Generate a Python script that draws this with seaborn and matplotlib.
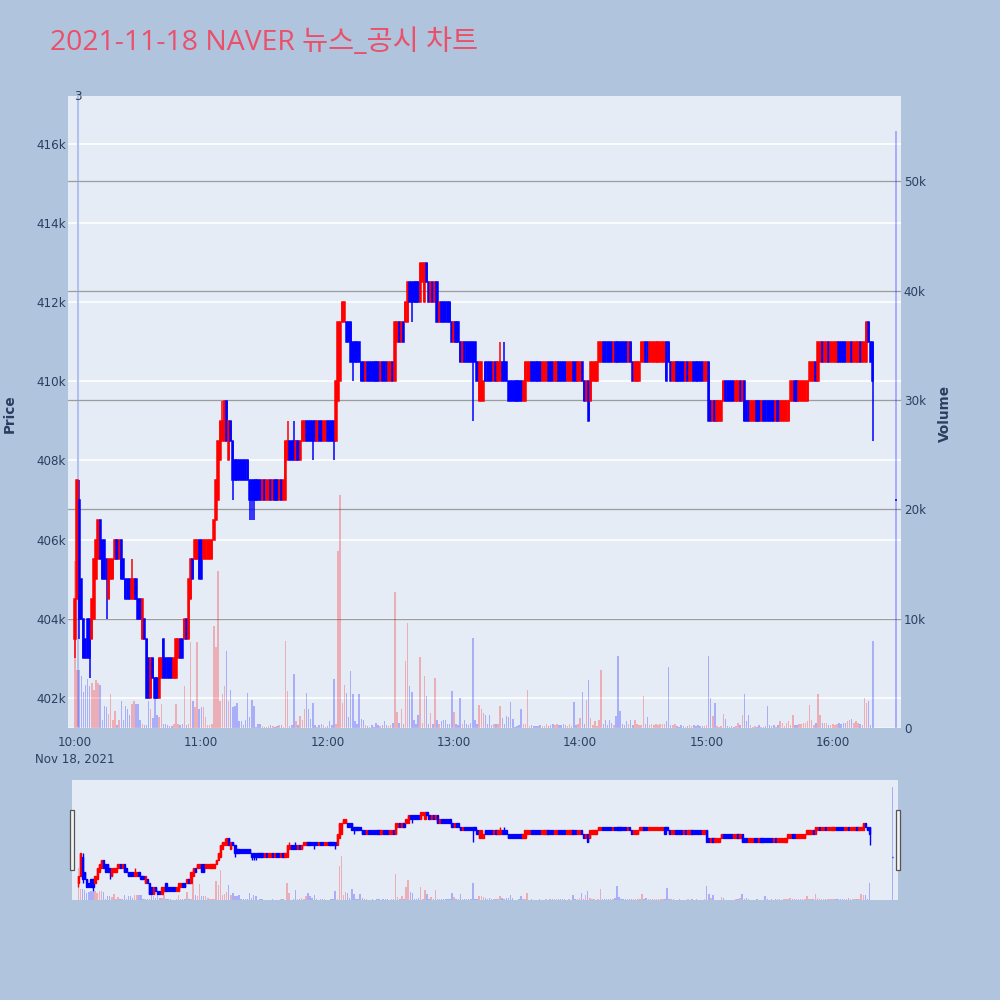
import numpy as np
import pandas as pd
import matplotlib
matplotlib.use("Agg")
import matplotlib.pyplot as plt
from matplotlib.patches import Rectangle
import matplotlib.transforms as mtransforms
import seaborn as sns

# ---------------- data ----------------
TITLE = "2021-11-18 NAVER 뉴스_공시 차트"
START = "2021-11-18 10:00"

# 1-minute candles, prices in thousand won, 10:00 .. 16:19
open_k = [
    403.5, 404.5, 407.0, 405.0, 404.0, 403.5, 404.0, 404.0, 403.5, 404.0,
    405.0, 405.5, 406.5, 406.0, 406.0, 405.5, 404.5, 405.0, 405.0, 405.5,
    406.0, 405.5, 406.0, 405.5, 405.0, 405.0, 405.0, 404.5, 404.5, 405.0,
    404.5, 404.5, 403.5, 404.0, 403.5, 403.0, 402.0, 403.0, 402.5, 402.5,
    402.0, 402.5, 403.5, 403.0, 403.0, 403.0, 403.0, 402.5, 402.5, 403.0,
    403.5, 403.5, 403.5, 404.0, 403.5, 404.5, 405.5, 405.5, 405.5, 406.0,
    406.0, 405.5, 405.5, 405.5, 405.5, 405.5, 406.0, 406.5, 407.0, 408.0,
    408.5, 408.5, 409.5, 408.0, 409.0, 408.5, 408.0, 408.0, 408.0, 408.0,
    408.0, 408.0, 408.0, 407.5, 407.5, 407.5, 407.5, 407.5, 407.5, 407.0,
    407.5, 407.0, 407.0, 407.5, 407.0, 407.5, 407.5, 407.0, 407.5, 407.0,
    407.0, 408.0, 408.5, 408.5, 408.5, 408.0, 408.5, 408.0, 408.5, 408.5,
    409.0, 409.0, 409.0, 409.0, 409.0, 408.5, 409.0, 409.0, 408.5, 408.5,
    409.0, 409.0, 409.0, 409.0, 408.5, 409.5, 410.0, 411.5, 411.5, 411.5,
    411.5, 411.5, 411.0, 411.0, 411.0, 411.0, 410.5, 410.5, 410.0, 410.5,
    410.5, 410.5, 410.5, 410.5, 410.5, 410.0, 410.5, 410.5, 410.5, 410.0,
    410.0, 410.5, 410.0, 411.0, 411.5, 411.0, 411.5, 411.5, 411.5, 412.5,
    412.5, 412.5, 412.5, 412.5, 412.0, 412.5, 412.0, 413.0, 412.5, 412.0,
    412.5, 412.0, 412.5, 411.5, 412.0, 412.0, 412.0, 412.0, 412.0, 411.5,
    411.0, 411.5, 411.5, 411.0, 410.5, 411.0, 411.0, 411.0, 411.0, 411.0,
    411.0, 410.5, 409.5, 409.5, 409.5, 410.5, 410.5, 410.5, 410.5, 410.0,
    410.5, 410.0, 410.0, 410.5, 410.5, 410.5, 410.0, 410.0, 410.0, 410.0,
    410.0, 410.0, 410.0, 409.5, 409.5, 410.0, 410.0, 410.5, 410.5, 410.5,
    410.5, 410.5, 410.0, 410.0, 410.0, 410.5, 410.5, 410.5, 410.0, 410.0,
    410.5, 410.5, 410.5, 410.5, 410.0, 410.0, 410.0, 410.5, 410.5, 410.0,
    410.0, 410.5, 410.0, 409.5, 410.0, 409.5, 410.0, 410.0, 410.0, 410.5,
    410.5, 411.0, 411.0, 411.0, 411.0, 411.0, 410.5, 411.0, 411.0, 411.0,
    411.0, 411.0, 411.0, 410.5, 411.0, 410.5, 410.0, 410.0, 410.0, 410.5,
    410.5, 411.0, 411.0, 410.5, 410.5, 410.5, 410.5, 410.5, 410.5, 410.5,
    410.5, 411.0, 411.0, 410.5, 410.0, 410.0, 410.5, 410.5, 410.5, 410.5,
    410.0, 410.5, 410.0, 410.0, 410.5, 410.5, 410.5, 410.5, 410.5, 410.0,
    410.0, 410.5, 409.5, 409.0, 409.5, 409.0, 409.0, 409.0, 409.5, 410.0,
    410.0, 410.0, 410.0, 410.0, 409.5, 409.5, 410.0, 409.5, 410.0, 409.5,
    409.5, 409.0, 409.0, 409.0, 409.5, 409.5, 409.0, 409.5, 409.5, 409.5,
    409.5, 409.5, 409.5, 409.0, 409.5, 409.0, 409.0, 409.0, 409.0, 409.0,
    409.5, 409.5, 410.0, 410.0, 409.5, 409.5, 409.5, 409.5, 409.5, 410.0,
    410.0, 410.0, 410.5, 410.0, 410.5, 411.0, 410.5, 410.5, 411.0, 410.5,
    410.5, 410.5, 410.5, 411.0, 411.0, 411.0, 411.0, 410.5, 410.5, 411.0,
    410.5, 410.5, 410.5, 411.0, 410.5, 410.5, 410.5, 411.5, 411.0, 411.0,
]
close_k = [
    404.5, 407.5, 404.0, 404.0, 403.0, 403.0, 403.0, 403.0, 404.5, 405.5,
    406.0, 406.5, 405.5, 405.0, 405.0, 405.0, 405.5, 405.5, 405.5, 406.0,
    405.5, 406.0, 405.0, 405.0, 404.5, 404.5, 404.5, 405.0, 405.0, 404.5,
    404.0, 404.0, 404.5, 403.5, 402.0, 402.0, 403.0, 402.5, 402.0, 402.0,
    403.0, 403.0, 402.5, 402.5, 402.5, 402.5, 402.5, 403.0, 403.5, 403.5,
    403.0, 403.0, 404.0, 403.5, 405.0, 405.5, 405.0, 406.0, 406.0, 405.0,
    405.0, 406.0, 406.0, 406.0, 406.0, 406.0, 406.5, 407.5, 408.5, 409.0,
    409.0, 409.5, 408.5, 409.0, 408.5, 407.5, 407.5, 407.5, 407.5, 407.5,
    407.5, 407.5, 407.5, 407.0, 407.0, 407.0, 407.0, 407.0, 407.0, 407.5,
    407.0, 407.5, 407.5, 407.0, 407.5, 407.0, 407.0, 407.5, 407.0, 407.5,
    408.5, 408.5, 408.0, 408.0, 408.0, 408.5, 408.0, 408.5, 409.0, 409.0,
    408.5, 408.5, 408.5, 408.5, 408.5, 409.0, 408.5, 408.5, 409.0, 409.0,
    408.5, 408.5, 408.5, 408.5, 410.0, 411.5, 411.5, 412.0, 412.0, 411.0,
    411.0, 410.5, 410.5, 410.5, 410.5, 410.5, 410.0, 410.0, 410.5, 410.0,
    410.0, 410.0, 410.0, 410.0, 410.0, 410.5, 410.0, 410.0, 410.0, 410.5,
    410.5, 410.0, 411.5, 411.5, 411.0, 411.5, 411.0, 412.0, 412.5, 412.0,
    412.0, 412.0, 412.0, 412.0, 413.0, 413.0, 413.0, 412.5, 412.0, 412.5,
    412.0, 412.5, 411.5, 412.0, 411.5, 411.5, 411.5, 411.5, 411.5, 411.0,
    411.5, 411.0, 411.0, 410.5, 411.0, 410.5, 410.5, 410.5, 410.5, 410.5,
    410.5, 410.0, 410.5, 410.5, 410.0, 410.0, 410.0, 410.0, 410.0, 410.5,
    410.0, 410.5, 410.5, 410.0, 410.0, 410.0, 409.5, 409.5, 409.5, 409.5,
    409.5, 409.5, 409.5, 410.0, 410.5, 410.5, 410.5, 410.0, 410.0, 410.0,
    410.0, 410.0, 410.5, 410.5, 410.5, 410.0, 410.0, 410.0, 410.5, 410.5,
    410.0, 410.0, 410.0, 410.0, 410.5, 410.5, 410.5, 410.0, 410.0, 410.5,
    410.5, 410.0, 409.5, 410.0, 409.0, 410.5, 410.5, 410.5, 410.5, 411.0,
    411.0, 410.5, 410.5, 410.5, 410.5, 410.5, 411.0, 410.5, 410.5, 410.5,
    410.5, 410.5, 410.5, 411.0, 410.5, 410.0, 410.5, 410.5, 410.5, 411.0,
    411.0, 410.5, 410.5, 411.0, 411.0, 411.0, 411.0, 411.0, 411.0, 411.0,
    411.0, 410.0, 410.5, 410.0, 410.5, 410.5, 410.0, 410.0, 410.0, 410.0,
    410.5, 410.0, 410.5, 410.5, 410.0, 410.0, 410.0, 410.0, 410.0, 410.5,
    410.5, 409.0, 409.0, 409.5, 409.0, 409.5, 409.5, 409.5, 410.0, 409.5,
    409.5, 409.5, 409.5, 409.5, 410.0, 410.0, 409.5, 410.0, 409.0, 409.0,
    409.0, 409.5, 409.5, 409.5, 409.0, 409.0, 409.5, 409.0, 409.0, 409.0,
    409.0, 409.0, 409.0, 409.5, 409.0, 409.5, 409.5, 409.5, 409.5, 409.5,
    410.0, 410.0, 409.5, 409.5, 410.0, 410.0, 410.0, 410.0, 410.0, 410.5,
    410.5, 410.5, 410.0, 411.0, 411.0, 410.5, 411.0, 411.0, 410.5, 411.0,
    411.0, 411.0, 411.0, 410.5, 410.5, 410.5, 410.5, 411.0, 411.0, 410.5,
    411.0, 411.0, 411.0, 410.5, 411.0, 411.0, 411.5, 411.0, 410.5, 410.0,
]
# traded volume per minute, thousand shares
volume_k = [
    15.3, 5.3, 5.3, 4.8, 3.3, 3.9, 4.5, 3.8, 4.1, 3.5,
    4.4, 4.1, 3.9, 0.7, 2.0, 1.9, 1.3, 3.1, 0.7, 1.6,
    0.3, 0.7, 2.5, 0.7, 2.0, 1.7, 1.2, 2.2, 2.5, 2.2,
    2.2, 0.7, 0.4, 0.3, 0.3, 2.5, 1.7, 0.9, 3.8, 1.2,
    1.0, 2.2, 0.4, 0.4, 0.3, 0.2, 0.2, 0.4, 2.2, 0.4,
    0.3, 0.4, 3.8, 0.3, 0.4, 7.9, 2.5, 1.9, 7.9, 1.7,
    1.9, 1.9, 1.0, 0.3, 0.3, 0.4, 9.3, 7.4, 14.4, 2.5,
    3.1, 3.8, 7.0, 2.5, 3.5, 1.9, 2.0, 2.3, 0.6, 0.6,
    0.3, 0.7, 3.2, 1.0, 2.6, 2.0, 0.1, 0.4, 0.4, 0.2,
    0.1, 0.1, 0.2, 0.3, 0.2, 0.1, 0.2, 0.3, 0.3, 0.1,
    8.0, 3.4, 0.2, 0.3, 4.9, 0.6, 0.3, 1.1, 0.7, 1.7,
    3.2, 1.7, 0.8, 2.3, 0.3, 0.1, 0.3, 0.4, 0.3, 0.1,
    0.2, 0.6, 0.3, 4.5, 0.4, 16.2, 21.3, 2.3, 3.9, 3.2,
    1.0, 5.2, 3.1, 0.6, 0.4, 3.1, 0.8, 0.7, 0.3, 0.2,
    0.1, 0.3, 0.1, 0.5, 0.3, 0.2, 0.3, 0.6, 0.3, 0.2,
    0.3, 0.5, 12.4, 1.5, 0.5, 1.7, 0.4, 6.1, 9.6, 3.8,
    3.3, 0.7, 0.4, 1.2, 6.5, 0.5, 4.8, 2.9, 0.4, 1.4,
    0.4, 4.6, 0.7, 0.4, 0.6, 0.7, 0.7, 0.4, 0.4, 3.4,
    1.5, 0.4, 0.3, 2.7, 0.4, 0.7, 0.4, 0.3, 0.5, 8.2,
    0.7, 0.4, 2.1, 1.7, 1.4, 1.2, 0.4, 1.2, 0.3, 0.4,
    0.4, 0.4, 2.0, 0.9, 0.4, 1.1, 1.0, 2.4, 0.8, 0.1,
    0.2, 0.3, 1.7, 0.4, 0.4, 3.5, 0.2, 0.3, 0.2, 0.2,
    0.2, 0.3, 0.2, 0.2, 0.4, 0.2, 0.3, 0.4, 0.3, 0.4,
    0.3, 0.3, 0.4, 0.3, 0.2, 0.4, 0.2, 2.4, 0.3, 0.4,
    0.9, 3.3, 0.4, 2.6, 4.4, 0.9, 0.3, 0.6, 0.2, 0.7,
    5.3, 0.4, 0.7, 0.3, 0.7, 0.5, 0.3, 1.1, 6.6, 1.6,
    0.4, 0.3, 0.6, 0.4, 0.7, 0.3, 0.7, 0.4, 0.3, 0.3,
    2.9, 0.4, 1.0, 0.3, 0.4, 0.3, 0.4, 0.3, 0.4, 0.4,
    0.4, 0.6, 5.6, 0.3, 0.3, 0.4, 0.2, 0.1, 0.3, 0.2,
    0.1, 0.2, 0.3, 0.2, 0.3, 0.2, 0.3, 0.2, 0.2, 0.2,
    0.3, 6.6, 2.7, 1.1, 2.3, 0.2, 0.1, 0.2, 1.3, 0.8,
    0.2, 0.1, 0.2, 0.1, 0.2, 0.5, 0.3, 1.2, 3.1, 0.6,
    1.2, 0.3, 0.1, 0.2, 0.1, 0.3, 0.1, 0.1, 0.2, 2.0,
    0.3, 0.2, 0.3, 0.1, 0.3, 0.6, 0.5, 0.2, 0.5, 0.6,
    0.3, 1.2, 0.3, 0.3, 0.4, 0.4, 0.5, 0.5, 0.6, 2.1,
    0.7, 0.3, 0.5, 3.1, 1.2, 0.5, 0.5, 0.5, 0.3, 0.3,
    0.4, 0.3, 0.4, 0.5, 0.4, 0.5, 0.5, 0.6, 0.7, 0.8,
    0.5, 0.6, 0.5, 0.4, 0.3, 2.7, 2.3, 2.5, 0.3, 8.0,
]
high_wick = {"10:02": 407.5, "10:27": 405.5, "11:10": 409.5, "11:41": 409.0,
             "11:44": 409.0, "13:22": 411.0, "13:24": 411.0}
low_wick = {"10:00": 403.0, "10:02": 403.5, "10:07": 402.5, "10:15": 404.0,
            "11:15": 407.0, "11:23": 406.5, "11:24": 406.5, "11:25": 406.5,
            "11:53": 408.0, "12:03": 408.0, "12:12": 410.0, "12:40": 411.5,
            "13:09": 409.0, "16:19": 408.5}
auction_time = "16:30"
auction_price = 407.0
auction_volume_k = 54.6
news_time = "10:01:30"
news_label = "3"

price_ticks = [402, 404, 406, 408, 410, 412, 414, 416]
volume_ticks = [0, 10, 20, 30, 40, 50]
time_ticks = ["10:00", "11:00", "12:00", "13:00", "14:00", "15:00", "16:00"]
date_label = "Nov 18, 2021"

# ---------------- frame ----------------
t0 = pd.Timestamp(START)
times = list(pd.date_range(t0, periods=len(open_k), freq="min"))
times.append(pd.Timestamp(f"2021-11-18 {auction_time}"))
df = pd.DataFrame({
    "time": times,
    "open": open_k + [auction_price],
    "close": close_k + [auction_price],
    "volume": volume_k + [auction_volume_k],
})
df["minute"] = (df["time"] - t0).dt.total_seconds() / 60.0
df["high"] = df[["open", "close"]].max(axis=1)
df["low"] = df[["open", "close"]].min(axis=1)
hhmm = df["time"].dt.strftime("%H:%M")
for k, v in high_wick.items():
    df.loc[hhmm == k, "high"] = v
for k, v in low_wick.items():
    df.loc[hhmm == k, "low"] = v
df["dir"] = np.where(df["close"] > df["open"], "up", "down")


def to_min(s):
    return (pd.Timestamp(f"2021-11-18 {s}") - t0).total_seconds() / 60.0


# ---------------- style ----------------
sns.set_theme(style="white")
plt.rcParams["font.family"] = ["DejaVu Sans", "Noto Sans CJK KR"]

TXT = "#2a3f5f"
UP, DOWN = "#ff0000", "#0000ff"
PLOT_BG, PAPER_BG = "#E5ECF6", "#B0C4DE"
XLIM = (-3.3, 392.4)
PRICE_LIM = (401.24, 417.21)
VOL_LIM = (0, 57.8)

fig = plt.figure(figsize=(10, 10), dpi=100, facecolor=PAPER_BG)


def panel(rect, mini):
    ax = fig.add_axes(rect)
    ax.set_facecolor(PLOT_BG)
    axv = ax.twinx()
    axc = fig.add_axes(rect)
    axc.patch.set_visible(False)

    sns.barplot(data=df, x="minute", y="volume", hue="dir",
                palette={"up": UP, "down": DOWN}, native_scale=True,
                dodge=False, errorbar=None, width=0.7, saturation=1,
                alpha=0.26, legend=False, linewidth=0, ax=axv)

    cols = np.where(df["dir"] == "up", UP, DOWN)
    lw = 1.0 if mini else 1.1
    axc.vlines(df["minute"], df["low"], df["high"], colors=cols,
               linewidth=lw, zorder=2)
    axc.bar(df["minute"], (df["close"] - df["open"]).abs(),
            bottom=df[["open", "close"]].min(axis=1), width=0.6,
            color=cols, edgecolor=cols, linewidth=lw, zorder=3)

    for a in (ax, axv, axc):
        a.set_xlim(*XLIM)
        for s in a.spines.values():
            s.set_visible(False)
        a.set_xlabel("")
        a.set_ylabel("")
    ax.set_ylim(*PRICE_LIM)
    axc.set_ylim(*PRICE_LIM)
    axv.set_ylim(*VOL_LIM)
    axc.set_xticks([])
    axc.set_yticks([])
    return ax, axv, axc


# main chart
ax, axv, axc = panel([0.068, 0.272, 0.833, 0.632], mini=False)
ax.set_yticks(price_ticks)
ax.set_yticklabels([f"{v}k" for v in price_ticks])
ax.yaxis.grid(True, color="white", linewidth=1.2)
ax.xaxis.grid(False)
ax.set_axisbelow(True)
ax.tick_params(axis="y", length=0, pad=1.5, labelsize=8.6, labelcolor=TXT)

axv.set_yticks(volume_ticks)
axv.set_yticklabels(["0"] + [f"{v}k" for v in volume_ticks[1:]])
axv.yaxis.grid(True, color="#9c9c9c", linewidth=0.9)
axv.xaxis.grid(False)
axv.set_axisbelow(True)
axv.tick_params(axis="y", length=0, pad=2, labelsize=8.6, labelcolor=TXT)
axv.axhline(0, color="white", linewidth=1.5, zorder=0)

xt = [to_min(t) for t in time_ticks]
ax.set_xticks(xt)
ax.set_xticklabels([time_ticks[0] + "\n" + date_label] + time_ticks[1:],
                   multialignment="center", linespacing=1.35)
ax.tick_params(axis="x", length=0, pad=6, labelsize=8.6, labelcolor=TXT)
axv.tick_params(axis="x", length=0, labelbottom=False)

nx = to_min(news_time)
ax.axvline(nx, color="#b2c2ee", linewidth=1.5, zorder=1)
ax.text(nx, 1.0, news_label, transform=mtransforms.blended_transform_factory(
    ax.transData, ax.transAxes), ha="center", va="center",
    fontsize=8.6, color=TXT)

fig.text(0.0095, 0.586, "Price", rotation=90, ha="center", va="center",
         fontsize=9.8, fontweight="bold", color=TXT)
fig.text(0.945, 0.586, "Volume", rotation=90, ha="center", va="center",
         fontsize=9.8, fontweight="bold", color=TXT)

fig.text(0.05, 0.9495, TITLE, fontsize=20.4, color="#EB4F69",
         family=["Open Sans", "Noto Sans CJK KR"], va="baseline", ha="left")

# range slider
sax, sv, sc = panel([0.0715, 0.100, 0.826, 0.120], mini=True)
for a in (sax, sv):
    a.set_xticks([])
    a.set_yticks([])
    a.grid(False)

for hx in (0.0695, 0.896):
    fig.patches.append(Rectangle((hx, 0.130), 0.004, 0.060,
                                 transform=fig.transFigure, facecolor="#f2f2f2",
                                 edgecolor="#555555", linewidth=0.9))

fig.savefig("out.png", dpi=100, facecolor=PAPER_BG)
